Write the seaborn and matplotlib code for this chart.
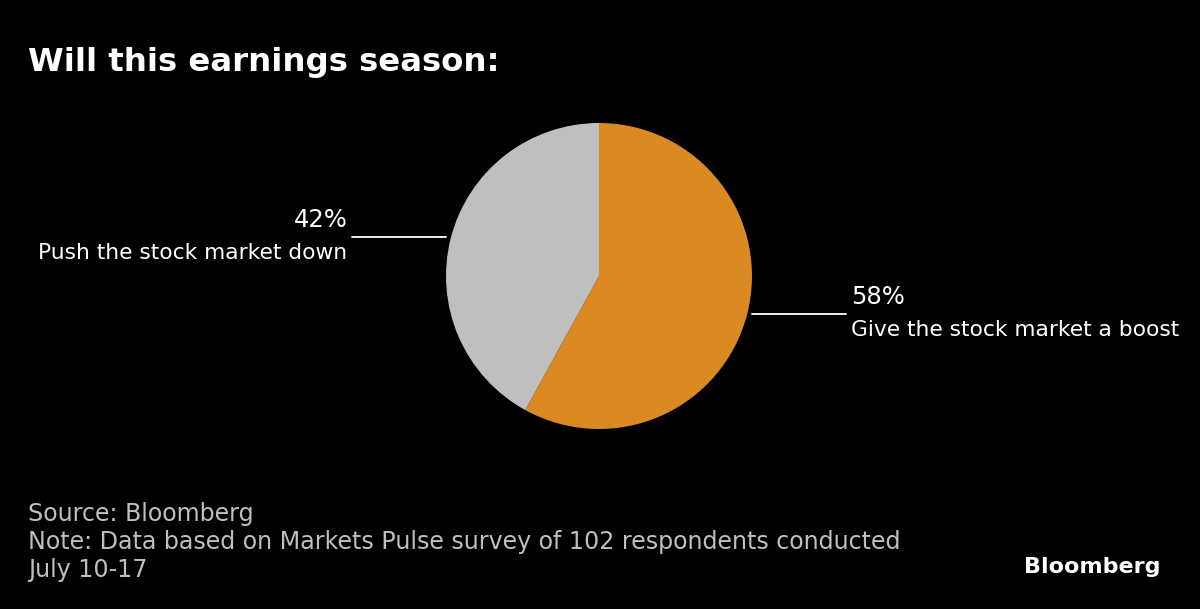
import matplotlib
matplotlib.use("Agg")
import matplotlib.pyplot as plt
import seaborn as sns

# survey answers
answers = ["Give the stock market a boost", "Push the stock market down"]
shares = [58, 42]
colors = ["#DB8A23", "#BFBFBF"]

title = "Will this earnings season:"
footer = ["Source: Bloomberg",
          "Note: Data based on Markets Pulse survey of 102 respondents conducted",
          "July 10-17"]

sns.set_style("dark", {"axes.facecolor": "black", "figure.facecolor": "black"})
plt.rcParams["font.family"] = ["DejaVu Sans"]

fig = plt.figure(figsize=(12, 6.09), dpi=100, facecolor="black")

# pie axes placed on the circle in pixel space: x 446-752, y 123-429
ax = fig.add_axes([446 / 1200, 1 - 429 / 609, 306 / 1200, 306 / 609])
ax.pie(shares, colors=colors, startangle=90, counterclock=False,
       radius=1, wedgeprops={"linewidth": 0})
ax.set_xlim(-1, 1)
ax.set_ylim(-1, 1)
ax.set_aspect("equal")
ax.axis("off")

# leader lines and labels (data coords: 153 px = 1 unit)
ax.plot([1.0, 1.614], [-0.248, -0.248], color="white", lw=1.3, clip_on=False)
ax.plot([-1.614, -1.0], [0.255, 0.255], color="white", lw=1.3, clip_on=False)

ax.text(1.645, -0.248 + 0.03, f"{shares[0]}%", color="white", fontsize=17.5,
        ha="left", va="bottom", clip_on=False)
ax.text(1.645, -0.248 - 0.04, answers[0], color="white", fontsize=15.7,
        ha="left", va="top", clip_on=False)
ax.text(-1.645, 0.255 + 0.03, f"{shares[1]}%", color="white", fontsize=17.5,
        ha="right", va="bottom", clip_on=False)
ax.text(-1.645, 0.255 - 0.04, answers[1], color="white", fontsize=15.7,
        ha="right", va="top", clip_on=False)

fig.text(28 / 1200, 1 - 62 / 609, title, color="white", fontsize=23.3,
         fontweight="bold", va="center", ha="left")
for i, line in enumerate(footer):
    fig.text(28 / 1200, 1 - (514 + 28 * i) / 609, line, color="#BFBFBF",
             fontsize=17.1, va="center", ha="left")
fig.text(1160 / 1200, 1 - 567 / 609, "Bloomberg", color="white", fontsize=16,
         fontweight="bold", va="center", ha="right")

fig.savefig("out.png", dpi=100, facecolor="black")
